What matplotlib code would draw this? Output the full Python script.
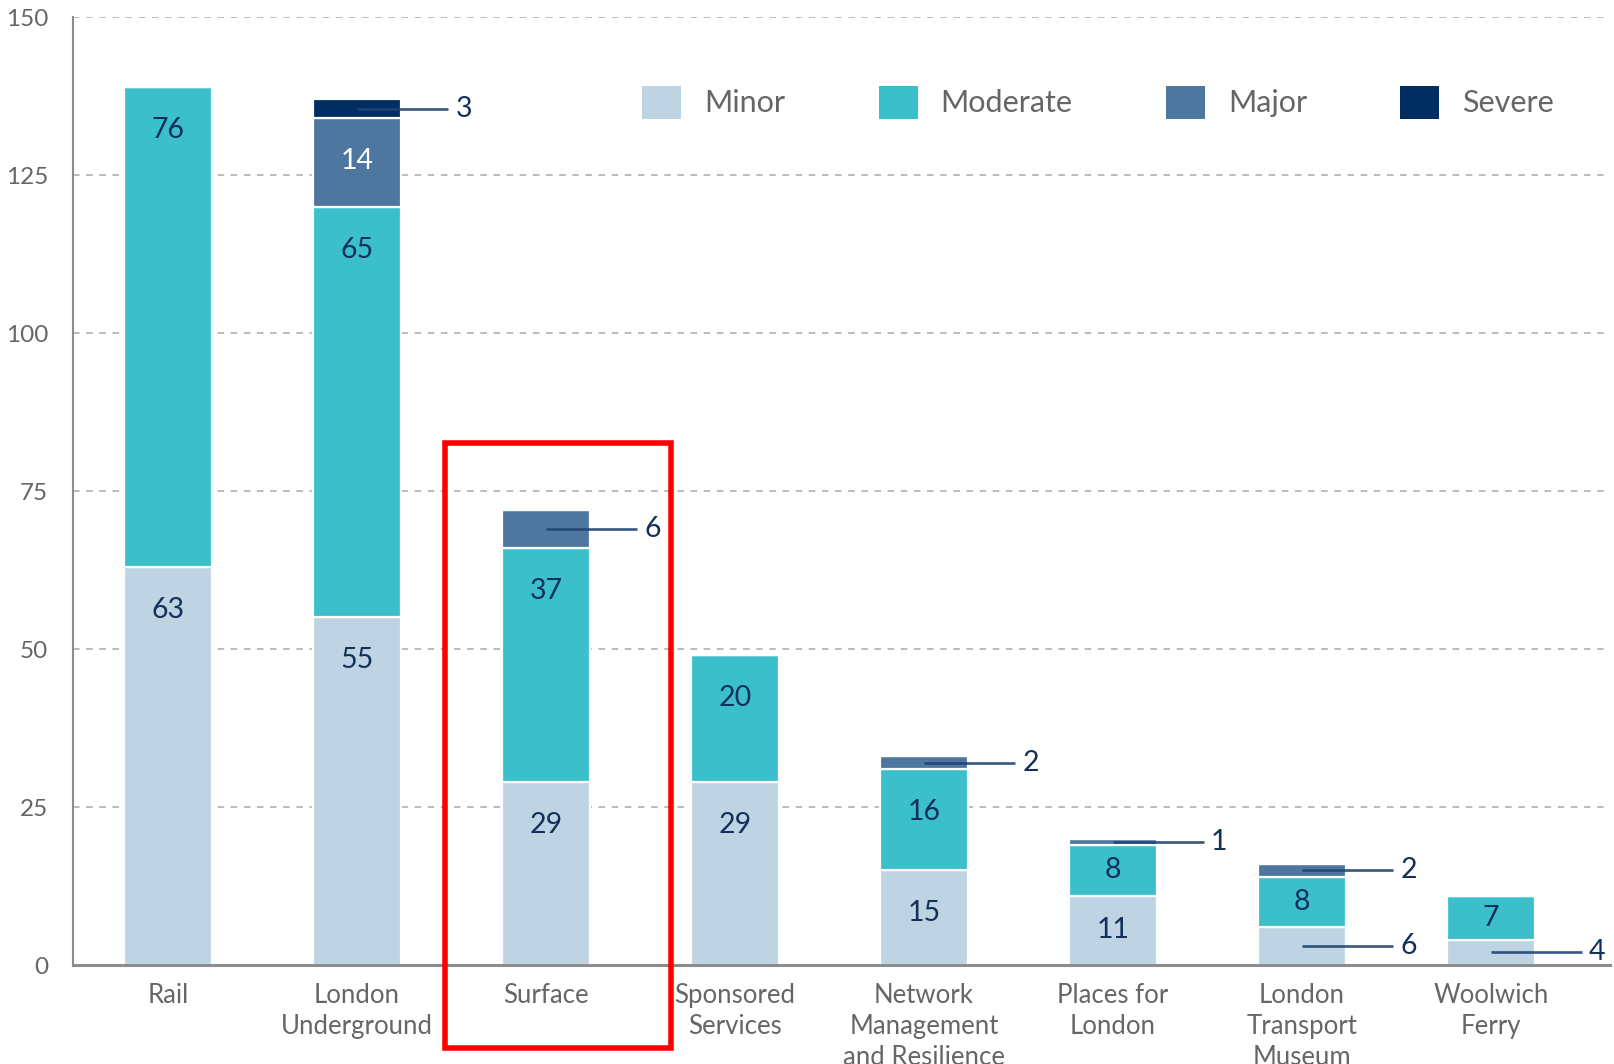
import matplotlib
matplotlib.use('Agg')
import matplotlib.pyplot as plt
from matplotlib.patches import Patch, Rectangle
import numpy as np

plt.rcParams['font.family'] = ['Lato', 'DejaVu Sans']

# data
categories = ['Rail', 'London\nUnderground', 'Surface', 'Sponsored\nServices',
              'Network\nManagement\nand Resilience', 'Places for\nLondon',
              'London\nTransport\nMuseum', 'Woolwich\nFerry']
minor = [63, 55, 29, 29, 15, 11, 6, 4]
moderate = [76, 65, 37, 20, 16, 8, 8, 7]
major = [0, 14, 6, 0, 2, 1, 2, 0]
severe = [0, 3, 0, 0, 0, 0, 0, 0]
series_names = ['Minor', 'Moderate', 'Major', 'Severe']
yticks = [0, 25, 50, 75, 100, 125, 150]
highlight = 'Surface'

colors = ['#BED4E2', '#3BBFCB', '#4D779F', '#002D62']
text_colors = ['#13305A', '#13305A', '#FFFFFF', '#FFFFFF']
navy = '#13305A'
grey = '#666666'

fig = plt.figure(figsize=(16.14, 10.64), dpi=100)
ax = fig.add_axes([0.0452, 0.093, 0.9523, 0.891])

x = np.arange(len(categories))
width = 0.466
series = [minor, moderate, major, severe]
bottom = np.zeros(len(categories))

for k, vals in enumerate(series):
    vals = np.array(vals, dtype=float)
    ax.bar(x, vals, width, bottom=bottom, color=colors[k],
           edgecolor='white', linewidth=1.6, zorder=2)
    for i, v in enumerate(vals):
        if v <= 0:
            continue
        if v <= 6:
            # small segment -> leader line out to the right
            yc = bottom[i] + v / 2
            ax.plot([x[i], x[i] + 0.48], [yc, yc], color='#1F4470',
                    lw=1.9, alpha=0.9, zorder=4, solid_capstyle='butt')
            ax.text(x[i] + 0.52, yc, str(int(v)), ha='left', va='center',
                    fontsize=20.5, color=navy, zorder=5)
        else:
            yc = max(bottom[i] + v / 2, bottom[i] + v - 6.8)
            ax.text(x[i], yc, str(int(v)), ha='center', va='center',
                    fontsize=20.5, color=text_colors[k], zorder=5)
    bottom += vals

ax.set_xlim(-0.503, 7.63)
ax.set_ylim(0, 150)
ax.set_yticks(yticks)
ax.set_xticks(x)
ax.set_xticklabels(categories, fontsize=18.5, color=grey, linespacing=1.3)
ax.tick_params(axis='both', length=0, labelcolor=grey)
ax.tick_params(axis='y', pad=18, labelsize=17.5)
ax.tick_params(axis='x', pad=13)

ax.yaxis.grid(True, linestyle=(0, (4.3, 4.3)), color='#AAAAAA', lw=1.1)
ax.set_axisbelow(True)
for s in ['top', 'right']:
    ax.spines[s].set_visible(False)
ax.spines['left'].set_color('#8C8C8C')
ax.spines['left'].set_linewidth(1.5)
ax.spines['bottom'].set_color('#8C8C8C')
ax.spines['bottom'].set_linewidth(2.2)
ax.spines['bottom'].set_zorder(3)

# red highlight box around one category
hi = categories.index(highlight)
ax.add_patch(Rectangle((hi - 0.534, -13.1), 1.195, 95.7, fill=False,
                       edgecolor='#FF0000', lw=4, clip_on=False, zorder=6))

handles = [Patch(facecolor=c, edgecolor='none') for c in colors]
fig.legend(handles, series_names, loc='center left',
           bbox_to_anchor=(0.398, 0.904), ncol=4, frameon=False,
           fontsize=22, labelcolor=grey, handlelength=1.28, handleheight=1.28,
           handletextpad=0.75, columnspacing=3.05, borderpad=0,
           borderaxespad=0)

fig.savefig('out.png', dpi=100, facecolor='white')
